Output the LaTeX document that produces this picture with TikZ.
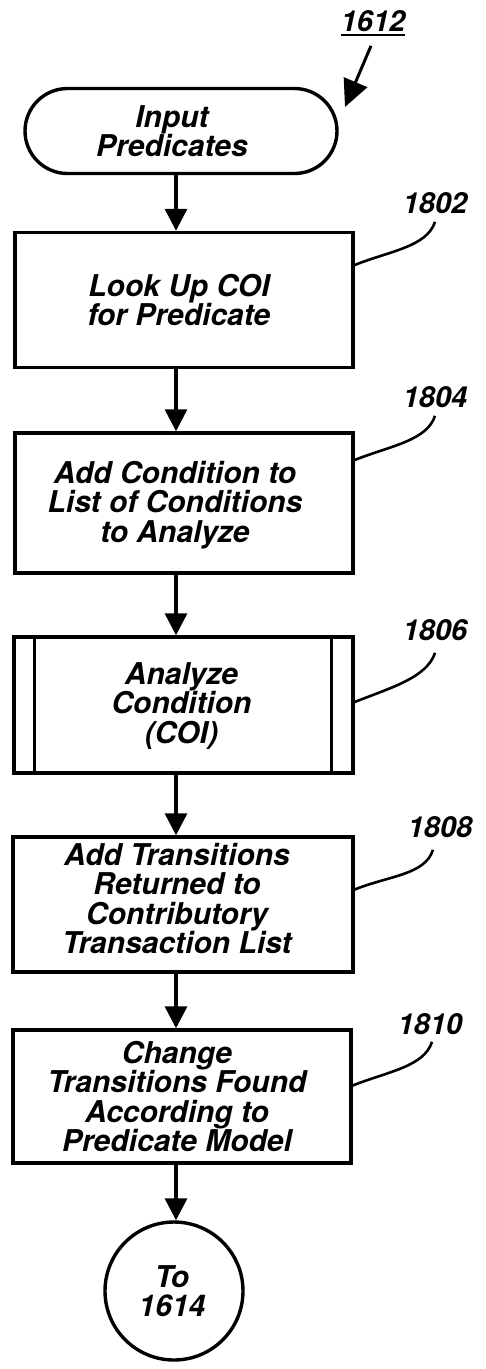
\documentclass[tikz,border=0pt]{standalone}
\usepackage{fontspec}
\setmainfont{TeX Gyre Heros}
\usetikzlibrary{arrows.meta,shapes.misc}
\tikzset{
  txt/.style={font=\fontsize{30}{29.5}\selectfont\bfseries\itshape, align=center, inner sep=0pt},
  stepbox/.style={draw, line width=3.4pt, minimum width=338pt, minimum height=135pt, inner sep=0pt},
  term/.style={draw, line width=3.4pt, rounded rectangle, minimum width=312pt,
    minimum height=85pt, inner sep=0pt},
  conn/.style={draw, line width=3.4pt, circle, minimum size=138pt, inner sep=0pt},
  arr/.style={line width=3.4pt, -{Triangle[length=22pt,width=22pt]}},
  lead/.style={line width=2.6pt},
  lbl/.style={font=\fontsize{29}{30}\selectfont\bfseries\itshape, inner sep=0pt}
}
\begin{document}
\begin{tikzpicture}[x=1pt,y=-1pt]
\useasboundingbox (0,0) rectangle (485,1369);
\coordinate (ax) at (176,0);

\node[term] (t0) at (181,131) {};
\node[txt] (t0t) at ([xshift=-9pt]t0.center) {Input\\Predicates};
\node[stepbox] (b1) at (184,300) {};
\node[txt] (b1t) at ([xshift=-5pt]b1.center) {Look Up COI\\for Predicate};
\node[stepbox, minimum height=140pt] (b2) at (184,503) {};
\node[txt] (b2t) at ([xshift=-9pt,yshift=-2pt]b2.center) {Add Condition to\\List of Conditions\\to Analyze};
\node[stepbox, minimum width=339pt, minimum height=136pt] (b3) at (183.5,705) {};
\node[txt] (b3t) at ([xshift=-2pt,yshift=-1pt]b3.center) {Analyze\\Condition\\(COI)};
\node[stepbox, minimum width=340pt] (b4) at (183,904.5) {};
\node[txt] (b4t) at ([xshift=-6pt,yshift=6pt]b4.center) {Add Transitions\\Returned to\\Contributory\\Transaction List};
\node[stepbox, minimum height=133pt] (b5) at (182,1096.5) {};
\node[txt] (b5t) at ([xshift=-5pt]b5.center) {Change\\Transitions Found\\According to\\Predicate Model};
\node[conn] (c6) at (174,1291) {};
\node[txt] (c6t) at ([xshift=-2pt]c6.center) {To\\1614};

\draw[line width=3.4pt] ([xshift=22pt]b3.north west) -- ([xshift=22pt]b3.south west);
\draw[line width=3.4pt] ([xshift=-23pt]b3.north east) -- ([xshift=-23pt]b3.south east);

\draw[arr] (t0.south -| ax) -- (b1.north -| ax);
\draw[arr] (b1.south -| ax) -- (b2.north -| ax);
\draw[arr] (b2.south -| ax) -- (b3.north -| ax);
\draw[arr] (b3.south -| ax) -- (b4.north -| ax);
\draw[arr] (b4.south -| ax) -- (b5.north -| ax);
\draw[arr] (b5.south -| ax) -- (c6.north -| ax);

\node[lbl] (l0) at (373,21) {1612};
\draw[line width=2.4pt] ([yshift=-3pt]l0.south west) -- ([yshift=-3pt]l0.south east);
\coordinate (l0t) at (345,107);
\draw[line width=3pt, -{Triangle[length=27pt,width=25pt]}] ([xshift=-2pt,yshift=-14pt]l0.south) -- (l0t);

\node[lbl] (l1) at (435,203) {1802};
\node[lbl] (l2) at (435,397) {1804};
\node[lbl] (l3) at (435,630) {1806};
\node[lbl] (l4) at (440,827) {1808};
\node[lbl] (l5) at (430,1024) {1810};

\draw[lead] ([yshift=35pt]b1.east) .. controls +(35,-14) and +(-8,25) .. ([yshift=-8pt]l1.south);
\draw[lead] ([yshift=43pt]b2.east) .. controls +(35,-14) and +(-8,25) .. ([yshift=-8pt]l2.south);
\draw[lead] ([yshift=3pt]b3.east) .. controls +(35,-14) and +(-8,25) .. ([yshift=-12pt]l3.south);
\draw[lead] ([yshift=15pt]b4.east) .. controls +(35,-14) and +(-8,25) .. ([xshift=-7pt,yshift=-12pt]l4.south);
\draw[lead] ([yshift=11pt]b5.east) .. controls +(35,-14) and +(-8,25) .. ([xshift=2pt,yshift=-7pt]l5.south);
\end{tikzpicture}
\end{document}
